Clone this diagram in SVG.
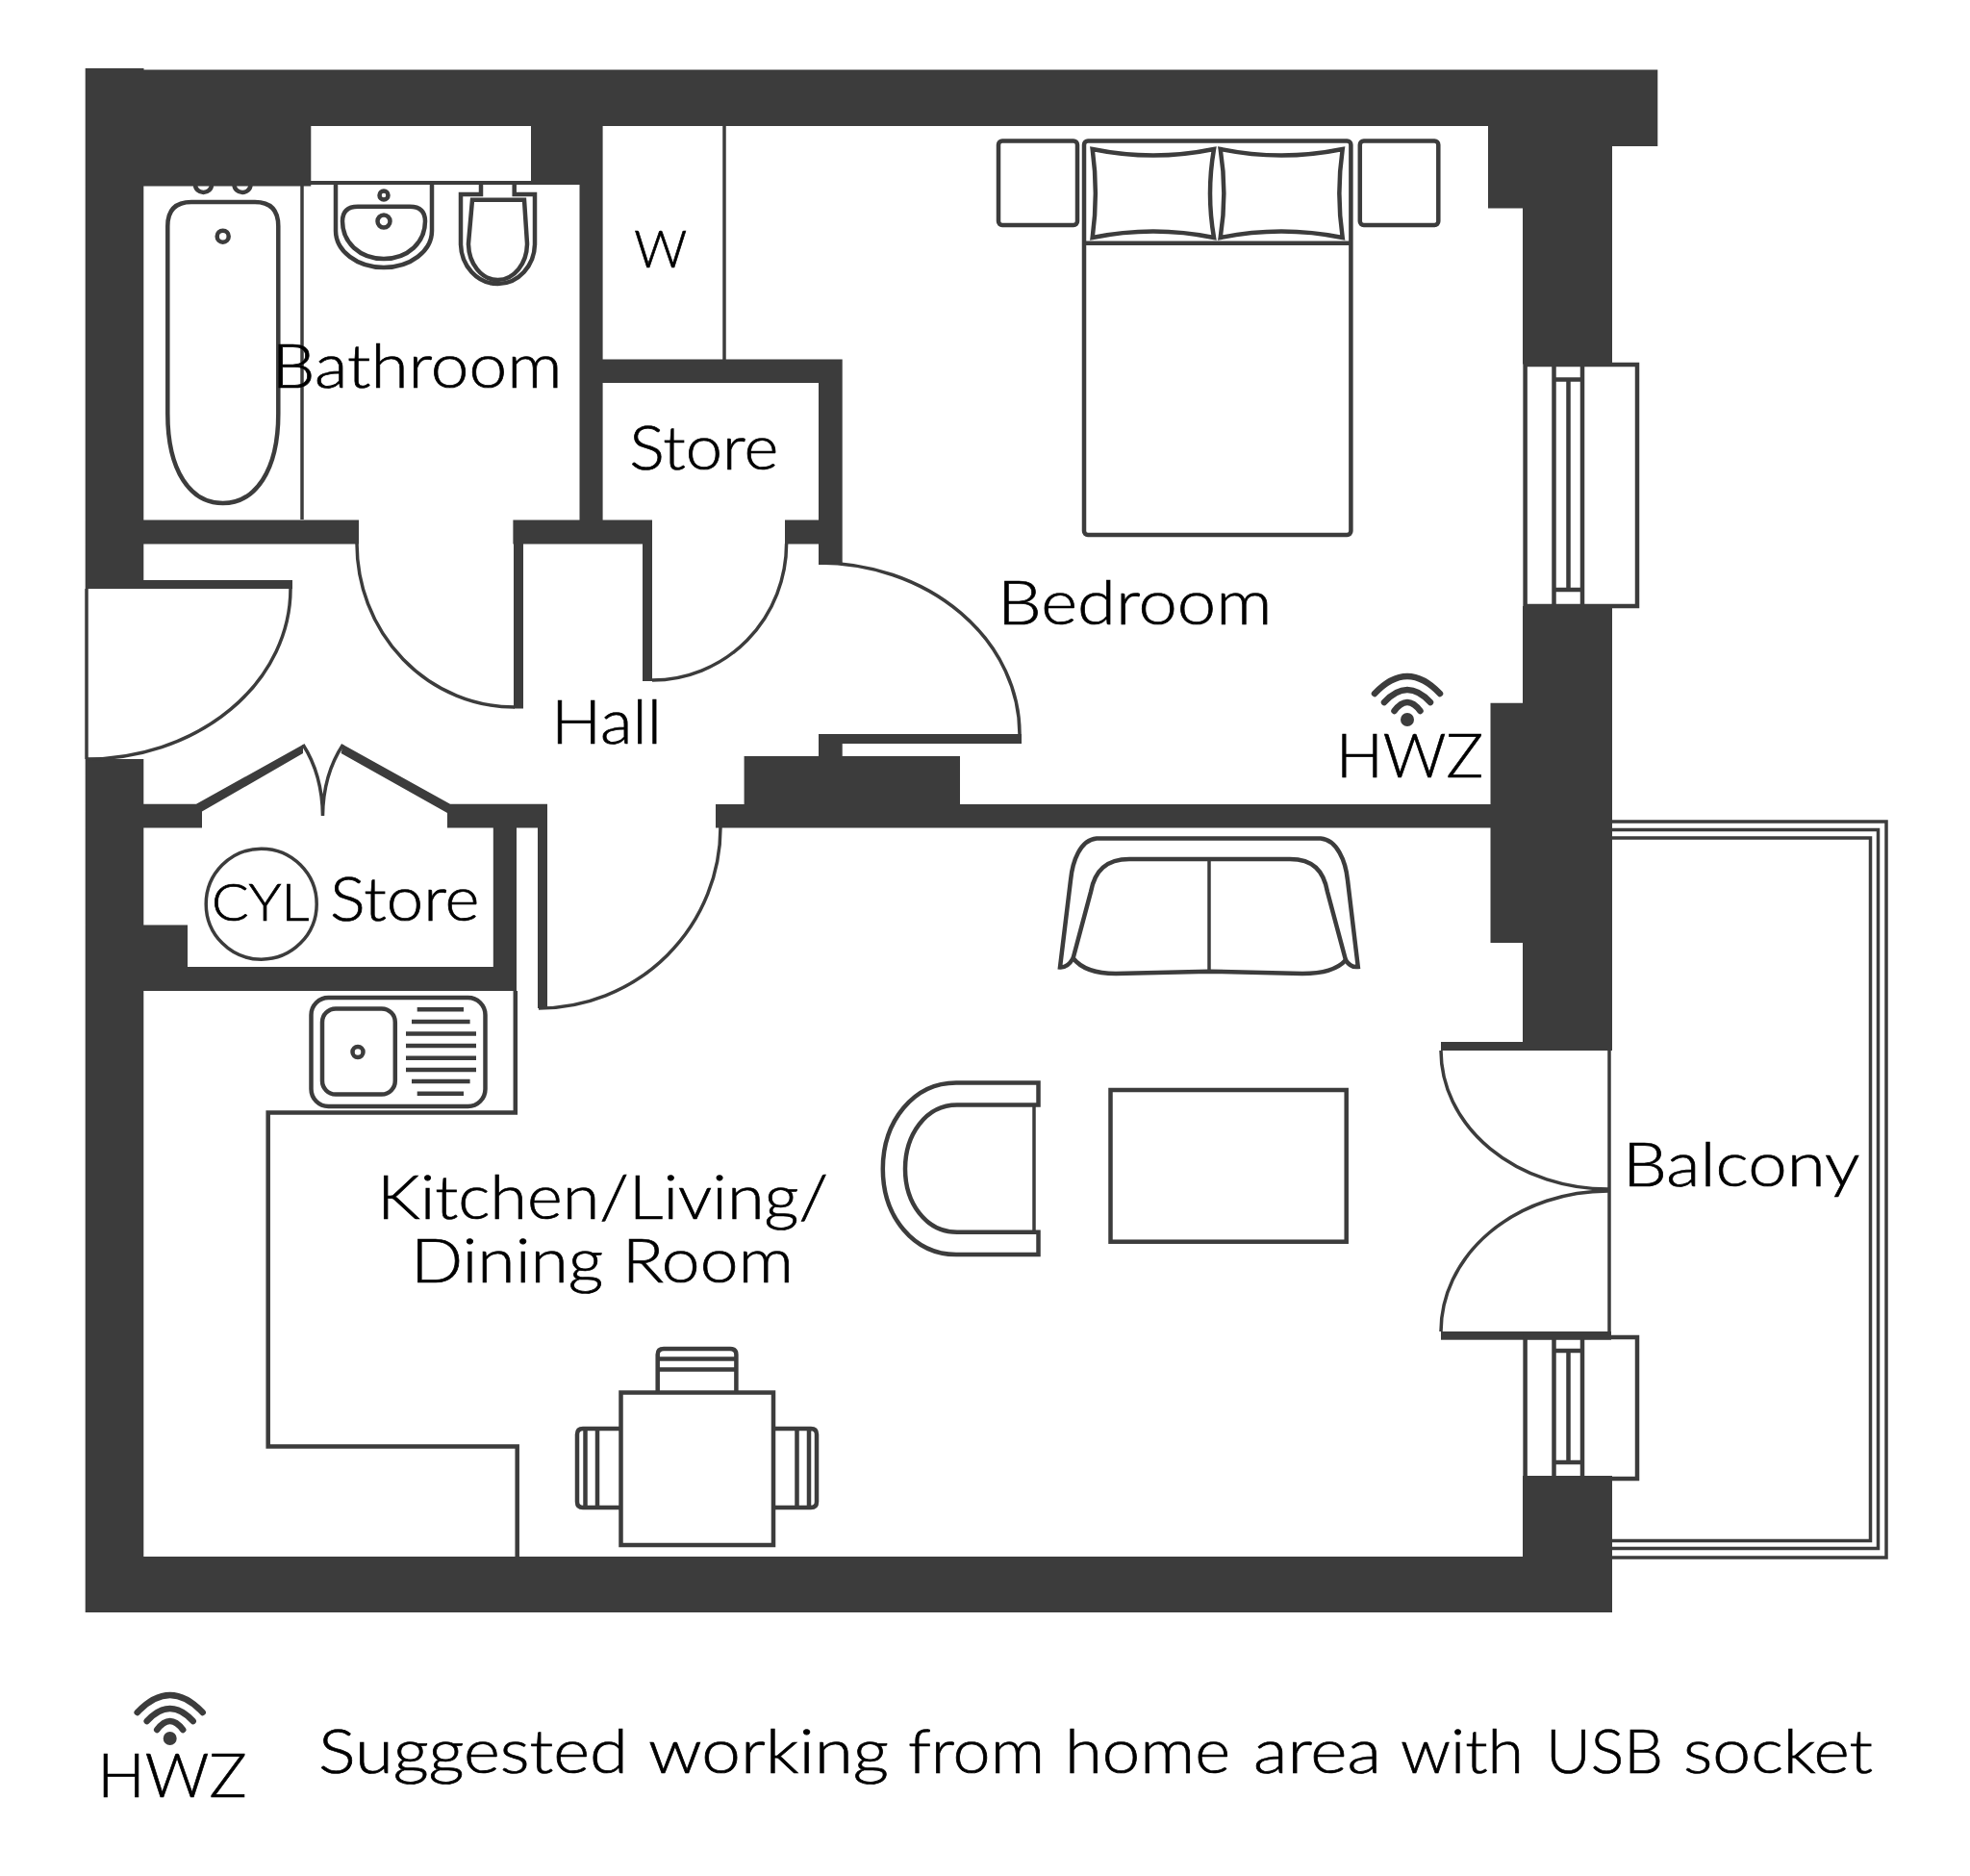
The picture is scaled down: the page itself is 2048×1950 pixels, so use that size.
<svg xmlns="http://www.w3.org/2000/svg" width="2048" height="1950" viewBox="0 0 2048 1950">
<style>
.w{fill:#3c3c3c;stroke:none}
.l{fill:none;stroke:#3c3c3c;stroke-width:3.5}
.m{fill:none;stroke:#3c3c3c;stroke-width:4.5}
.wf{fill:none;stroke:#3c3c3c;stroke-width:6.5;stroke-linecap:round}
text{font-family:"Lato","Liberation Sans",sans-serif;font-weight:300;fill:#000;stroke:#000;stroke-width:.7;font-size:63px}
</style>
<defs>
<g id="wifi">
<path class="wf" d="M-34,-27 Q0,-63 34,-27"/>
<path class="wf" d="M-24,-18 Q0,-44 24,-18"/>
<path class="wf" d="M-13.500,-9 Q0,-27 13.500,-9"/>
<circle cx="0" cy="0" r="7" fill="#3c3c3c"/>
</g>
</defs>
<rect width="2048" height="1950" fill="#fff"/>
<g id="balcony">
<path class="l" d="M1670,854 H1961 V1619 H1670"/>
<path class="l" d="M1670,862.500 H1952.500 V1609.500 H1670"/>
<path class="l" d="M1670,871 H1944.500 V1601.500 H1670"/>
</g>
<g id="walls">
<path class="w" d="M88.700,71 H149.500 V72.500 H1723.300 V152 H1676 V378.500 H1583 V216.500 H1547 V131 H626.600 V373.600 H875.700 V587 H851 V565.400 H816 V540.400 H851 V398 H626.600 V540.400 H678 V708 H668 V565.400 H544 V736.400 H534 V565.400 H533.400 V540.400 H602.500 V192 H552 V131 H323.300 V193.600 H149.300 V540.400 H373 V565.400 H149.300 V603 H304 V612 H88.700 Z"/>
<rect class="w" x="323" y="188" width="232" height="4"/>
<path class="w" d="M88.700,789 H149.300 V835.700 H204 L315,774 V783 L210,843.600 V860.400 H149.300 V961.400 H195 V1005 H512.800 V860.400 H465 V845 L354.600,783 L356.600,774 L468,835.700 H569 V1048 H559 V860.400 H537 V1030 H149.300 V1618 H1583 V1534 H1676 V1676 H88.700 Z"/>
<path class="w" d="M744,836 H773.600 V786 H851 V763 H1062 V773 H875.700 V786 H998 V836 H1549.500 V730.700 H1583 V630 H1676 V1092 H1498 V1083 H1583 V980 H1549.500 V860.400 H744 Z"/>
<rect class="w" x="1498" y="1384" width="177" height="8.700"/>
</g>
<g id="doors">
<path class="l" d="M90,612 V789 M302,612 A212,177 0 0 1 90,789"/>
<path class="l" d="M371,565 A164,170 0 0 0 535,735"/>
<path class="l" d="M817.600,565 A139.600,142 0 0 1 678,707"/>
<path class="l" d="M851,585 A209,178 0 0 1 1060,763"/>
<path class="l" d="M749,860 A189,188 0 0 1 560,1048"/>
<path class="l" d="M1673,1092 V1384"/>
<path class="l" d="M1498,1092 A174,144 0 0 0 1672,1236"/>
<path class="l" d="M1498,1384 A174,146 0 0 1 1672,1238"/>
<path class="l" d="M315,774 Q335,805 335.500,848 M356.600,774 Q336,805 335.500,848"/>
</g>
<g id="windows">
<rect class="m" x="1585.600" y="379" width="116.400" height="251"/>
<path class="m" d="M1615.500,379 V630 M1645,379 V630 M1630.500,394.400 V613"/>
<path class="m" d="M1615,394.400 H1645 M1615,613 H1645"/>
<rect class="m" x="1585.600" y="1390" width="116.400" height="147"/>
<path class="m" d="M1615.500,1390 V1534 M1645,1390 V1534 M1630.500,1404 V1520"/>
<path class="m" d="M1615,1404 H1645 M1615,1520 H1645"/>
</g>
<g id="bathroom-fittings">
<path class="l" d="M314,192 V540"/>
<path class="m" d="M174.300,235 Q174.300,210 199,210 H265 Q289.300,210 289.300,235 V430 C289.300,490 265,523 231.700,523 C198,523 174.300,490 174.300,430 Z"/>
<circle class="m" cx="231.700" cy="245.700" r="6"/>
<path class="m" d="M203,192 A8.500,8 0 1 0 220,192 M243.500,192 A8.500,8 0 1 0 260.500,192"/>
<path class="m" d="M349,192 V240 A50,38 0 0 0 449,240 V192"/>
<path class="m" d="M372,214.700 H426 Q442,214.700 442,230 C442,252 424,269 399,269 C374,269 356,252 356,230 Q356,214.700 372,214.700 Z"/>
<circle class="m" cx="399" cy="203" r="4.500"/>
<circle class="m" cx="399" cy="230" r="6.500"/>
<path class="m" d="M500,192 V202 H479 V253 A38.500,42 0 0 0 556,253 V202 H534.700 V192"/>
<path class="m" d="M491,207.700 H545 L548,253 A30.500,38 0 0 1 487,253 Z"/>
</g>
<g id="wardrobe"><path class="l" d="M753,131 V374"/></g>
<g id="bed">
<rect class="m" x="1127" y="146.400" width="277.400" height="409.600" rx="4"/>
<path class="m" d="M1127,252.800 H1404.400"/>
<path class="m" d="M1135.700,155 Q1199,168 1262,155 Q1254,201 1262,247 Q1199,234 1135.700,247 Q1142,201 1135.700,155 Z"/>
<path class="m" d="M1268.700,155 Q1332,168 1395.700,155 Q1389,201 1395.700,247 Q1332,234 1268.700,247 Q1276,201 1268.700,155 Z"/>
<rect class="m" x="1038" y="146.400" width="82" height="87.600" rx="4"/>
<rect class="m" x="1413.800" y="146.400" width="81.500" height="87.600" rx="4"/>
</g>
<g id="sofa">
<path class="m" d="M1140,871.500 H1373 C1390,873 1399,895 1401,915 L1411.800,1005 Q1404,1006 1399,998 C1390,1008 1375,1012 1354,1012 L1257,1009.700 L1160,1012 C1140,1012 1125,1008 1115.600,996 Q1110,1006 1102,1005.500 L1113,915 C1115,895 1123,873 1140,871.500 Z"/>
<path class="m" d="M1174,893 H1341 C1365,893 1376,905 1380,927 L1399,998 M1174,893 C1150,893 1138,905 1134,927 L1115.600,996"/>
<path class="l" d="M1257,893 V1010"/>
</g>
<g id="coffee-table"><rect class="m" x="1154.500" y="1133" width="245.200" height="157.700"/></g>
<g id="armchair">
<path class="m" d="M1079.500,1125.400 H994 C950,1125.400 917.800,1165 917.800,1215 C917.800,1265 950,1304 994,1304 H1079.500 V1280.700 H995 C962,1280.700 941,1250 941,1215 C941,1180 962,1148.600 995,1148.600 H1079.500 Z"/>
<path class="l" d="M1075,1149 V1281"/>
</g>
<g id="kitchen">
<path class="m" d="M535.800,1030 V1156.600 H278.700 V1503.400 H537.700 V1618"/>
<rect class="m" x="323.500" y="1037" width="181" height="113" rx="18"/>
<rect class="m" x="335" y="1048.400" width="75.800" height="89.200" rx="14"/>
<circle class="m" cx="372" cy="1093.500" r="5.500"/>
<path class="m" d="M433.700,1049.300 H482 M428,1062 H488.600 M422,1074.500 H495 M422,1087 H495 M422,1099.800 H495 M422,1112 H495 M428,1124 H488.600 M433.700,1136.800 H482"/>
</g>
<g id="dining">
<rect class="m" x="645.500" y="1447.500" width="158.500" height="158.500"/>
<path class="m" d="M683.700,1447 V1408 Q683.700,1402 690,1402 H759 Q765.400,1402 765.400,1408 V1447 M683.700,1412.500 H765.400 M683.700,1423.400 H765.400"/>
<path class="m" d="M644.800,1485 H606 Q600,1485 600,1491 V1561 Q600,1567 606,1567 H644.800 M608.500,1485 V1567 M621,1485 V1567"/>
<path class="m" d="M804,1485 H843 Q849,1485 849,1491 V1561 Q849,1567 843,1567 H804 M828.500,1485 V1567 M841,1485 V1567"/>
</g>
<g id="cylinder"><circle class="l" cx="271.700" cy="939.700" r="57.500"/></g>
<g id="labels">
<text x="282.600" y="402.500" textLength="302" lengthAdjust="spacingAndGlyphs">Bathroom</text>
<text x="654.200" y="487.500" textLength="155" lengthAdjust="spacingAndGlyphs">Store</text>
<text x="659.200" y="277.500" textLength="55" lengthAdjust="spacingAndGlyphs" style="font-size:54px">W</text>
<text x="573" y="773" textLength="115" lengthAdjust="spacingAndGlyphs">Hall</text>
<text x="220" y="957" textLength="101.500" lengthAdjust="spacingAndGlyphs" style="font-size:53px">CYL</text>
<text x="343" y="957" textLength="155.500" lengthAdjust="spacingAndGlyphs">Store</text>
<text x="1037" y="649" textLength="285.600" lengthAdjust="spacingAndGlyphs">Bedroom</text>
<text x="1389" y="808.400" textLength="153" lengthAdjust="spacingAndGlyphs">HWZ</text>
<text x="1687" y="1232.700" textLength="246.500" lengthAdjust="spacingAndGlyphs">Balcony</text>
<text x="392" y="1267" textLength="469" lengthAdjust="spacingAndGlyphs">Kitchen/Living/</text>
<text x="427" y="1332.500" textLength="398" lengthAdjust="spacingAndGlyphs">Dining Room</text>
</g>
<use id="wifi-bedroom" href="#wifi" x="1463" y="748"/>
<g id="legend">
<use href="#wifi" x="176.700" y="1807"/>
<text x="101.300" y="1868" textLength="155.300" lengthAdjust="spacingAndGlyphs">HWZ</text>
<text y="1842.700"><tspan x="331" textLength="322" lengthAdjust="spacingAndGlyphs">Suggested</tspan> <tspan x="674" textLength="250" lengthAdjust="spacingAndGlyphs">working</tspan> <tspan x="944" textLength="142" lengthAdjust="spacingAndGlyphs">from</tspan> <tspan x="1107" textLength="172" lengthAdjust="spacingAndGlyphs">home</tspan> <tspan x="1303" textLength="133" lengthAdjust="spacingAndGlyphs">area</tspan> <tspan x="1456" textLength="128" lengthAdjust="spacingAndGlyphs">with</tspan> <tspan x="1607" textLength="122" lengthAdjust="spacingAndGlyphs">USB</tspan> <tspan x="1750" textLength="197" lengthAdjust="spacingAndGlyphs">socket</tspan></text>
</g>
</svg>
